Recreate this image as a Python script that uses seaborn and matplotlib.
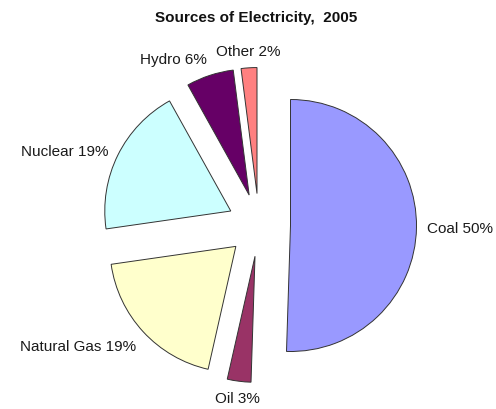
import matplotlib
matplotlib.use("Agg")
import numpy as np
import matplotlib.pyplot as plt
import seaborn as sns

sources = ["Coal", "Oil", "Natural Gas", "Nuclear", "Hydro", "Other"]
shares = [50, 3, 19, 19, 6, 2]
colors = ["#9999FF", "#993366", "#FFFFCC", "#CCFFFF", "#660066", "#FF8080"]
title = "Sources of Electricity,  2005"

sns.set_theme(style="white")
plt.rcParams["font.family"] = ["Liberation Sans", "DejaVu Sans"]

fig = plt.figure(figsize=(4.96, 4.10), dpi=100)
ax = fig.add_axes([0, 0, 1, 1])

labels = [f"{s} {v}%" for s, v in zip(sources, shares)]
wedges, texts = ax.pie(
    shares, labels=labels, colors=colors, startangle=90, counterclock=False,
    explode=[0.25] * len(shares), labeldistance=1.08,
    wedgeprops=dict(edgecolor="#333333", linewidth=0.7),
    textprops=dict(fontsize=11, color="#1a1a1a"),
)
# Excel-like label alignment: label box sits just outside the slice
for w, t in zip(wedges, texts):
    mid = np.deg2rad((w.theta1 + w.theta2) / 2)
    c, s = np.cos(mid), np.sin(mid)
    t.set_ha("left" if c > 0.3 else "right" if c < -0.3 else "center")
    t.set_va("bottom" if s > 0.5 else "top" if s < -0.5 else "center")

ax.set_aspect("auto")
ax.set_xlim(-259 / 126, (496 - 259) / 126)
ax.set_ylim(-184 / 126, (410 - 184) / 126)
ax.axis("off")

fig.text(0.517, 0.956, title, ha="center", va="center", fontsize=11,
         fontweight="bold", color="#111111")

fig.savefig("out.png", dpi=100)
